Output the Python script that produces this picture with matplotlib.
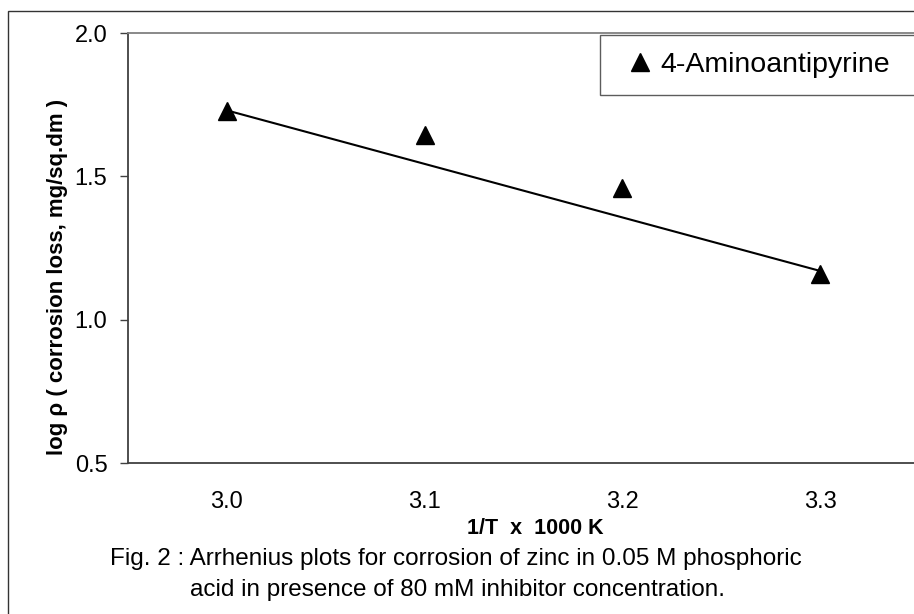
import matplotlib
matplotlib.use("Agg")
import matplotlib.pyplot as plt
from matplotlib.patches import Rectangle
from matplotlib.ticker import FormatStrFormatter

# ---- data ----
inv_T = [3.0, 3.1, 3.2, 3.3]                 # 1/T x 1000 K
log_rho = [1.727, 1.644, 1.461, 1.161]       # log rho (corrosion loss, mg/sq.dm)
fit_x = [3.0, 3.3]                           # straight line drawn through the data
fit_y = [1.73, 1.17]
x_ticks = [3.0, 3.1, 3.2, 3.3]
y_ticks = [0.5, 1.0, 1.5, 2.0]
series_name = "4-Aminoantipyrine"
x_title = "1/T  x  1000 K"
y_title = "log \u03c1 ( corrosion loss, mg/sq.dm )"
caption_lines = ["Fig. 2 : Arrhenius plots for corrosion of zinc in 0.05 M phosphoric",
                 "acid in presence of 80 mM inhibitor concentration."]

plt.rcParams['font.family'] = ['Liberation Sans', 'DejaVu Sans']

W, H = 914, 614
fig = plt.figure(figsize=(W / 100, H / 100), dpi=100)

def fx(px):
    return px / W

def fy(py):
    return 1 - py / H

# outer chart border (cropped on right/bottom)
fig.patches.append(Rectangle((fx(8), fy(700)), fx(1100), fy(11) - fy(700),
                             transform=fig.transFigure, fill=False,
                             edgecolor='#333333', linewidth=1.0))

left, right, top, bottom = 128, 919, 33, 463
ax = fig.add_axes([fx(left), fy(bottom), fx(right) - fx(left), fy(top) - fy(bottom)])
ax.set_xlim(2.95, 3.35)
ax.set_ylim(0.5, 2.0)

ax.plot(fit_x, fit_y, color='black', linewidth=1.5, zorder=2)
ax.plot(inv_T, log_rho, linestyle='none', marker='^', markersize=12.5,
        color='black', label=series_name, zorder=3)

ax.set_xticks(x_ticks)
ax.set_yticks(y_ticks)
ax.xaxis.set_major_formatter(FormatStrFormatter('%.1f'))
ax.yaxis.set_major_formatter(FormatStrFormatter('%.1f'))
ax.tick_params(axis='x', length=0, pad=20.5, labelsize=17, colors='black')
ax.tick_params(axis='y', length=5.8, width=1.0, pad=9, labelsize=17,
               color='#404040', labelcolor='black', direction='out')

ax.spines['left'].set_color('#404040')
ax.spines['left'].set_linewidth(1.3)
ax.spines['bottom'].set_color('#404040')
ax.spines['bottom'].set_linewidth(1.3)
ax.spines['top'].set_color('#808080')
ax.spines['top'].set_linewidth(1.3)
ax.spines['right'].set_color('#808080')

leg = ax.legend(loc='upper left',
                bbox_to_anchor=(fx(600), fy(99), fx(340), fy(35) - fy(99)),
                bbox_transform=fig.transFigure, mode='expand',
                borderaxespad=0, borderpad=0.6, handlelength=1.62,
                handletextpad=-0.1, fontsize=20.5, frameon=True, fancybox=False,
                markerscale=1.0)
leg.get_frame().set_edgecolor('#333333')
leg.get_frame().set_linewidth(1.0)

fig.text(fx(535), fy(529), x_title, ha='center', va='center',
         fontsize=15.5, fontweight='bold')
fig.text(fx(58), fy(277), y_title, ha='center', va='center', rotation=90,
         fontsize=16, fontweight='bold')
fig.text(fx(456), fy(559), caption_lines[0], ha='center', va='center', fontsize=17.5)
fig.text(fx(458), fy(590), caption_lines[1], ha='center', va='center', fontsize=17.5)

fig.savefig('out.png', dpi=100)
